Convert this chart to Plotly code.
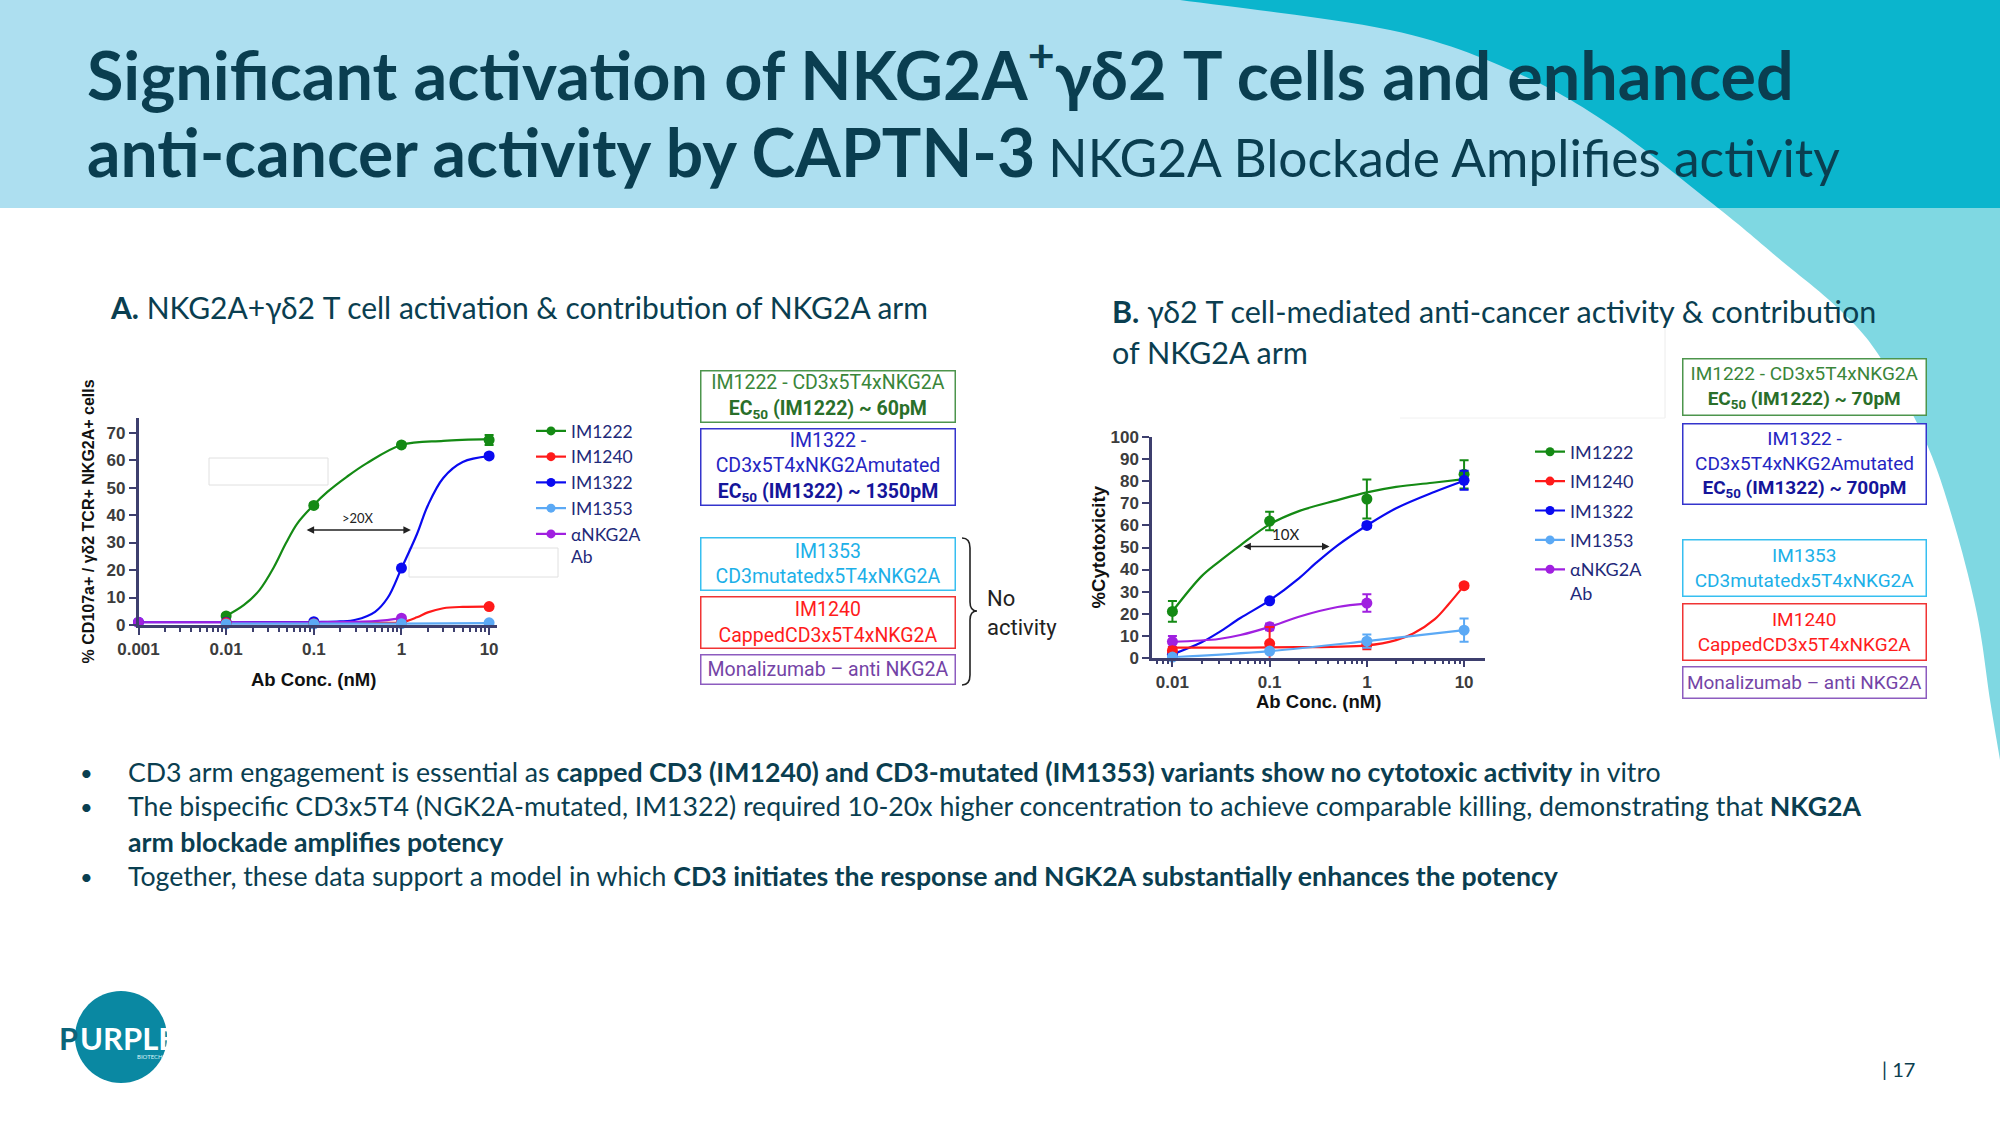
import math
import plotly.graph_objects as go

W, H = 2000, 1125

# ---------------- panel A: activation (% CD107a+) ----------------
a_ticks = [0.001, 0.01, 0.1, 1, 10]
a_ticktext = ["0.001", "0.01", "0.1", "1", "10"]

a_im1222_x = [0.01, 0.1, 1, 10]
a_im1222_y = [3.3, 43.5, 65.5, 67.3]
a_im1222_err = [0.6, 0.8, 0.8, 1.8]
a_im1240_x = [0.01, 0.1, 1, 10]
a_im1240_y = [0.8, 0.5, 1.0, 6.7]
a_im1240_err = [0.3, 0.3, 0.3, 0.4]
a_im1322_x = [0.001, 0.01, 0.1, 1, 10]
a_im1322_y = [1.0, 1.0, 1.2, 20.7, 61.5]
a_im1322_err = [0.3, 0.3, 0.3, 0.6, 0.8]
a_im1353_x = [0.01, 0.1, 1, 10]
a_im1353_y = [0.4, 0.4, 0.5, 0.8]
a_im1353_err = [0.2, 0.2, 0.2, 0.3]
a_nkg2a_x = [0.001, 1]
a_nkg2a_y = [1.0, 2.5]
a_nkg2a_err = [0.3, 0.4]

# fitted curves
a_fit1222_x = [0.01, 0.016, 0.024, 0.035, 0.048, 0.065, 0.1, 0.144, 0.24, 0.4, 1, 3, 10]
a_fit1222_y = [3.3, 7.3, 12.7, 21.0, 29.7, 37.0, 43.7, 48.5, 54.0, 58.8, 65.5, 67.0, 67.6]
a_fit1240_x = [0.01, 0.1, 0.5, 1, 1.5, 2, 3, 5, 10]
a_fit1240_y = [0.7, 0.7, 0.8, 1.0, 2.8, 4.6, 6.1, 6.6, 6.7]
a_fit1322_x = [0.001, 0.01, 0.1, 0.2, 0.3, 0.5, 0.7, 1, 1.5, 2, 3, 5, 10]
a_fit1322_y = [1.0, 1.0, 1.1, 1.3, 1.9, 4.8, 10.0, 20.6, 33.0, 43.5, 53.5, 59.3, 61.4]
a_fit1353_x = [0.01, 0.1, 1, 10]
a_fit1353_y = [0.5, 0.5, 0.5, 0.7]
a_fitnkg_x = [0.001, 0.01, 0.1, 0.5, 1]
a_fitnkg_y = [1.0, 1.0, 1.0, 1.4, 2.5]

a_fold_from, a_fold_to, a_fold_level = 0.0796, 1.28, 34.6

# ---------------- panel B: cytotoxicity ----------------
b_ticks = [0.01, 0.1, 1, 10]
b_ticktext = ["0.01", "0.1", "1", "10"]

b_x = [0.01, 0.1, 1, 10]
b_im1222_y = [21.0, 62.0, 72.0, 83.2]
b_im1222_err = [4.7, 4.2, 8.8, 6.4]
b_im1240_y = [3.2, 6.4, 6.0, 32.7]
b_im1240_err = [1.5, 7.5, 2.2, 1.0]
b_im1322_y = [1.5, 25.8, 60.0, 80.5]
b_im1322_err = [0.8, 1.0, 1.2, 4.3]
b_im1353_y = [0.3, 3.0, 7.5, 12.5]
b_im1353_err = [0.5, 1.0, 3.0, 5.3]
b_nkg2a_x = [0.01, 0.1, 1]
b_nkg2a_y = [7.3, 14.0, 24.8]
b_nkg2a_err = [2.5, 1.5, 4.0]

b_fit1222_x = [0.01, 0.02, 0.03, 0.05, 0.1, 0.2, 0.5, 1, 2, 5, 10]
b_fit1222_y = [21.0, 37.0, 43.5, 51.0, 60.5, 66.5, 71.5, 75.0, 77.5, 79.5, 81.0]
b_fit1240_x = [0.01, 0.1, 1, 2, 3, 5, 7, 10]
b_fit1240_y = [4.6, 4.7, 5.6, 8.0, 11.0, 17.5, 24.5, 32.7]
b_fit1322_x = [0.01, 0.02, 0.03, 0.05, 0.1, 0.2, 0.3, 0.5, 1, 2, 5, 10]
b_fit1322_y = [1.5, 7.0, 11.5, 18.0, 26.0, 36.0, 43.0, 51.0, 60.0, 67.8, 75.3, 80.3]
b_fit1353_x = [0.01, 0.1, 1, 10]
b_fit1353_y = [0.2, 3.0, 7.5, 12.5]
b_fitnkg_x = [0.01, 0.03, 0.05, 0.1, 0.2, 0.5, 1]
b_fitnkg_y = [7.2, 8.5, 10.3, 14.0, 18.6, 23.0, 24.5]

b_fold_from, b_fold_to, b_fold_level = 0.0518, 0.413, 50.4

names = ["IM1222", "IM1240", "IM1322", "IM1353", "αNKG2A<br>Ab"]
colors = ["#148a14", "#ff1a1a", "#0a0af0", "#5ba9f5", "#a020e0"]

TEAL = "#0a3e50"
AXIS = "#3d3f6e"


def pxx(x):
    return x / W


def pyy(y):
    return 1 - y / H


fig = go.Figure()

panel_a = [
    (a_fit1222_x, a_fit1222_y, a_im1222_x, a_im1222_y, a_im1222_err, 0),
    (a_fit1322_x, a_fit1322_y, a_im1322_x, a_im1322_y, a_im1322_err, 2),
    (a_fit1240_x, a_fit1240_y, a_im1240_x, a_im1240_y, a_im1240_err, 1),
    (a_fitnkg_x, a_fitnkg_y, a_nkg2a_x, a_nkg2a_y, a_nkg2a_err, 4),
    (a_fit1353_x, a_fit1353_y, a_im1353_x, a_im1353_y, a_im1353_err, 3),
]
panel_b = [
    (b_fit1222_x, b_fit1222_y, b_x, b_im1222_y, b_im1222_err, 0),
    (b_fit1322_x, b_fit1322_y, b_x, b_im1322_y, b_im1322_err, 2),
    (b_fitnkg_x, b_fitnkg_y, b_nkg2a_x, b_nkg2a_y, b_nkg2a_err, 4),
    (b_fit1240_x, b_fit1240_y, b_x, b_im1240_y, b_im1240_err, 1),
    (b_fit1353_x, b_fit1353_y, b_x, b_im1353_y, b_im1353_err, 3),
]

for panel, xa, ya in [(panel_a, "x", "y"), (panel_b, "x2", "y2")]:
    for fx, fy, dx, dy, de, i in panel:
        fig.add_trace(go.Scatter(
            x=fx, y=fy, mode="lines", line=dict(color=colors[i], width=2.2, shape="spline", smoothing=1),
            xaxis=xa, yaxis=ya, showlegend=False, hoverinfo="skip", cliponaxis=False))
    for fx, fy, dx, dy, de, i in panel:
        fig.add_trace(go.Scatter(
            x=dx, y=dy, mode="markers", marker=dict(color=colors[i], size=11),
            error_y=dict(type="data", array=de, color=colors[i], thickness=2, width=4.5),
            xaxis=xa, yaxis=ya, showlegend=False, cliponaxis=False))

# legend entries
for lg, xa, ya in [("legend", "x", "y"), ("legend2", "x2", "y2")]:
    for i, nm in enumerate(names):
        fig.add_trace(go.Scatter(
            x=[None], y=[None], mode="lines+markers", name=nm, legendgroup="%s_%d" % (lg, i),
            line=dict(color=colors[i], width=2.2), marker=dict(color=colors[i], size=9),
            xaxis=xa, yaxis=ya, legend=lg, showlegend=True))

minor_a = [m * 10 ** e for e in range(-3, 1) for m in range(2, 10)]
minor_b = [m * 10 ** e for e in range(-3, 1) for m in range(2, 10) if m * 10 ** e > 0.006]

tickfont = dict(family="Liberation Sans, Arial", size=17, color="#3c3c3c", weight="bold")
common = dict(showline=True, linecolor=AXIS, linewidth=2.5, ticks="outside", ticklen=7,
              tickwidth=2, tickcolor=AXIS, showgrid=False, zeroline=False, tickfont=tickfont,
              automargin=False)

fig.update_layout(
    xaxis=dict(type="log", range=[-3, 1.09], domain=[pxx(138.5), pxx(497)], anchor="y",
               tickvals=a_ticks, ticktext=a_ticktext,
               minor=dict(tickvals=minor_a, ticks="outside", ticklen=4, tickwidth=1.5, tickcolor=AXIS),
               **common),
    yaxis=dict(range=[0, 75.3], domain=[pyy(625), pyy(418)], anchor="x", dtick=10, **common),
    xaxis2=dict(type="log", range=[-2.21, 1.21], domain=[pxx(1152), pxx(1484.5)], anchor="y2",
                tickvals=b_ticks, ticktext=b_ticktext,
                minor=dict(tickvals=minor_b, ticks="outside", ticklen=4, tickwidth=1.5, tickcolor=AXIS),
                **common),
    yaxis2=dict(range=[0, 100], domain=[pyy(657.7), pyy(437.3)], anchor="x2", dtick=10, **common),
)

fig.update_layout(
    legend=dict(x=pxx(531), y=pyy(413), xanchor="left", yanchor="top", bgcolor="rgba(0,0,0,0)",
                font=dict(family="Lato", size=17.5, color="#1f2a7a"), itemwidth=30, valign="top",
                traceorder="grouped", tracegroupgap=0),
    legend2=dict(x=pxx(1530), y=pyy(433.5), xanchor="left", yanchor="top", bgcolor="rgba(0,0,0,0)",
                 font=dict(family="Lato", size=18, color="#1f2a7a"), itemwidth=30, valign="top",
                 traceorder="grouped", tracegroupgap=3),
)

# ---------------- background shapes ----------------
curve_pts = [(1180, 0), (1390, 30), (1515, 72), (1610, 125), (1718, 208), (1777, 257), (1840, 310),
             (1880, 357), (1925, 440), (1953, 520), (1977, 614), (1990, 700), (2000, 760)]


def catmull(pts, n=14):
    out = []
    for k in range(len(pts) - 1):
        p0 = pts[k - 1] if k > 0 else pts[k]
        p1, p2 = pts[k], pts[k + 1]
        p3 = pts[k + 2] if k + 2 < len(pts) else pts[k + 1]
        for s in range(n):
            t = s / n
            t2, t3 = t * t, t * t * t
            x = 0.5 * (2 * p1[0] + (-p0[0] + p2[0]) * t + (2 * p0[0] - 5 * p1[0] + 4 * p2[0] - p3[0]) * t2
                       + (-p0[0] + 3 * p1[0] - 3 * p2[0] + p3[0]) * t3)
            y = 0.5 * (2 * p1[1] + (-p0[1] + p2[1]) * t + (2 * p0[1] - 5 * p1[1] + 4 * p2[1] - p3[1]) * t2
                       + (-p0[1] + 3 * p1[1] - 3 * p2[1] + p3[1]) * t3)
            out.append((x, y))
    out.append(pts[-1])
    return out


dense = catmull(curve_pts)
top_pts = [p for p in dense if p[1] <= 208]
bot_pts = [p for p in dense if p[1] >= 208]


def to_path(pts, tail):
    segs = ["%s %.5f,%.5f" % ("M" if j == 0 else "L", pxx(x), pyy(y)) for j, (x, y) in enumerate(pts + tail)]
    return " ".join(segs) + " Z"


shapes = [
    dict(type="rect", xref="paper", yref="paper", x0=0, x1=1, y0=pyy(208), y1=1,
         fillcolor="#addff0", line=dict(width=0), layer="below"),
    dict(type="path", xref="paper", yref="paper", path=to_path(top_pts, [(2000, 208), (2000, 0)]),
         fillcolor="#0bb5cd", line=dict(width=0), layer="below"),
    dict(type="path", xref="paper", yref="paper", path=to_path(bot_pts, [(2000, 208)]),
         fillcolor="#7fd8e2", line=dict(width=0), layer="below"),
    # faint leftover frames in the source figures
    dict(type="rect", xref="paper", yref="paper", x0=pxx(209), x1=pxx(328), y0=pyy(485), y1=pyy(458),
         line=dict(color="#e0e0e0", width=1), layer="below"),
    dict(type="rect", xref="paper", yref="paper", x0=pxx(409), x1=pxx(558), y0=pyy(577), y1=pyy(548),
         line=dict(color="#e0e0e0", width=1), layer="below"),
    dict(type="line", xref="paper", yref="paper", x0=pxx(1665), x1=pxx(1665), y0=pyy(418), y1=pyy(325),
         line=dict(color="#ececec", width=1), layer="below"),
    dict(type="line", xref="paper", yref="paper", x0=pxx(1400), x1=pxx(1665), y0=pyy(418), y1=pyy(418),
         line=dict(color="#f0f0f0", width=1), layer="below"),
    # brace for "No activity"
    dict(type="path", xref="paper", yref="paper", line=dict(color="#222222", width=1.6),
         path="M %f,%f Q %f,%f %f,%f L %f,%f Q %f,%f %f,%f Q %f,%f %f,%f L %f,%f Q %f,%f %f,%f" % (
             pxx(962), pyy(538), pxx(970), pyy(538), pxx(970), pyy(548),
             pxx(970), pyy(602),
             pxx(970), pyy(611), pxx(977), pyy(611),
             pxx(970), pyy(611), pxx(970), pyy(620),
             pxx(970), pyy(675),
             pxx(970), pyy(685), pxx(962), pyy(685))),
    # logo disc
    dict(type="circle", xref="paper", yref="paper", x0=pxx(75), x1=pxx(167), y0=pyy(1083), y1=pyy(991),
         fillcolor="#0a88a2", line=dict(width=0)),
]
fig.update_layout(shapes=shapes)

ann = []


def text(x, y, s, size, color=TEAL, family="Lato", xanchor="left", yanchor="middle", **kw):
    ann.append(dict(x=pxx(x), y=pyy(y), xref="paper", yref="paper", text=s, showarrow=False,
                    xanchor=xanchor, yanchor=yanchor, align=kw.pop("align", "left"),
                    font=dict(family=family, size=size, color=color), **kw))


# title
text(85, 70, "<b>Significant activation of NKG2A<sup>+</sup>γδ2 T cells and enhanced</b>", 66.5)
text(85, 151, "<b>anti-cancer activity by CAPTN-3</b><span style='font-size:51.5px'> NKG2A Blockade Amplifies activity</span>", 66)

# panel headers
text(108, 307, "<b>A.</b> NKG2A+γδ2 T cell activation &amp; contribution of NKG2A arm", 30)
text(1110, 311, "<b>B.</b> γδ2 T cell-mediated anti-cancer activity &amp; contribution", 30.5)
text(1110, 352, "of NKG2A arm", 30.5)

# axis titles
ARIAL = "Liberation Sans, Arial"
text(313.6, 679, "<b>Ab Conc. (nM)</b>", 18.5, color="#111111", family=ARIAL, xanchor="center")
text(88.7, 521.7, "<b>% CD107a+ / γδ2 TCR+ NKG2A+ cells</b>", 16, color="#111111", family=ARIAL,
     xanchor="center", textangle=-90)
text(1318, 701.7, "<b>Ab Conc. (nM)</b>", 18.5, color="#111111", family=ARIAL, xanchor="center")
text(1098.7, 546.7, "<b>%Cytotoxicity</b>", 18.5, color="#111111", family=ARIAL,
     xanchor="center", textangle=-90)

# fold-change arrows
for xr, yr, f0, f1, lvl, lab in [("x", "y", a_fold_from, a_fold_to, a_fold_level, ">20X"),
                                 ("x2", "y2", b_fold_from, b_fold_to, b_fold_level, "10X")]:
    ann.append(dict(x=math.log10(f1), y=lvl, ax=math.log10(f0), ay=lvl, xref=xr, yref=yr,
                    axref=xr, ayref=yr, text="", showarrow=True, arrowhead=2, startarrowhead=2,
                    arrowside="end+start", arrowsize=1, arrowwidth=1.5, arrowcolor="#222222"))
    ann.append(dict(x=(math.log10(f0) + math.log10(f1)) / 2, y=lvl, xref=xr, yref=yr, text=lab,
                    showarrow=False, yanchor="bottom", yshift=2,
                    font=dict(family="Lato", size=13 if lab == ">20X" else 15, color="#222222")))

# description boxes
BOX = "Roboto"


def box(cx, cy, w, h, border, s, size=19.5):
    ann.append(dict(x=pxx(cx), y=pyy(cy), xref="paper", yref="paper", text=s, showarrow=False,
                    xanchor="center", yanchor="middle", align="center", width=w - 3, height=h - 3,
                    bordercolor=border, borderwidth=1.5, borderpad=0, bgcolor="white",
                    font=dict(family=BOX, size=size, color=border)))


def box_texts(ec1222, ec1322):
    return [
        ("#4d954d", "<span style='color:#3a863a'>IM1222 - CD3x5T4xNKG2A</span><br>"
                    "<b><span style='color:#2a6f2a'>EC<sub>50</sub> (IM1222) ~ %s</span></b>" % ec1222),
        ("#3434cc", "<span style='color:#2525c2'>IM1322 -<br>CD3x5T4xNKG2Amutated</span><br>"
                    "<b><span style='color:#15159a'>EC<sub>50</sub> (IM1322) ~ %s</span></b>" % ec1322),
        ("#37bff0", "<span style='color:#1cb0e8'>IM1353<br>CD3mutatedx5T4xNKG2A</span>"),
        ("#f03434", "<span style='color:#ff1c1c'>IM1240<br>CappedCD3x5T4xNKG2A</span>"),
        ("#8d5cbf", "<span style='color:#7444a6'>Monalizumab – anti NKG2A</span>"),
    ]


a_boxes = [(396.5, 53), (467, 78), (564, 54), (622.5, 53), (669.5, 31)]
for (cy, h), (bc, s) in zip(a_boxes, box_texts("60pM", "1350pM")):
    box(828, cy, 256, h, bc, s)
b_boxes = [(387, 58), (464, 82), (568, 58), (632, 58), (682.5, 33)]
for (cy, h), (bc, s) in zip(b_boxes, box_texts("70pM", "700pM")):
    box(1804.5, cy, 245, h, bc, s, size=19)

text(985, 613, "No<br>activity", 22, color="#222222", family=BOX)

# bullets
bullets = [
    (772, "CD3 arm engagement is essential as <b>capped CD3 (IM1240) and CD3-mutated (IM1353) variants show no cytotoxic activity</b> in vitro"),
    (806, "The bispecific CD3x5T4 (NGK2A-mutated, IM1322) required 10-20x higher concentration to achieve comparable killing, demonstrating that <b>NKG2A</b>"),
    (842, "<b>arm blockade amplifies potency</b>"),
    (876, "Together, these data support a model in which <b>CD3 initiates the response and NGK2A substantially enhances the potency</b>"),
]
for y, s in bullets:
    if y != 842:
        text(78, y, "•", 22)
    text(126, y, s, 26.7)

# logo and page number
text(57, 1038, "<b>P</b>", 31, color="#0b6479", family="Lato")
text(78, 1038, "<b>URPLE</b>", 31, color="white", family="Lato")
text(150, 1056, "BIOTECH", 6, color="#d8f4f8", family="Lato", xanchor="center")
text(1880, 1069, "| 17", 20)

fig.update_layout(annotations=ann)

fig.update_layout(
    width=W, height=H, margin=dict(l=0, r=0, t=0, b=0, pad=0, autoexpand=False),
    paper_bgcolor="white", plot_bgcolor="rgba(0,0,0,0)",
    font=dict(family="Lato", color=TEAL),
)

fig.write_html("out.html", config={"displayModeBar": False},
               post_script="document.body.style.margin='0';document.body.style.overflow='hidden';")
